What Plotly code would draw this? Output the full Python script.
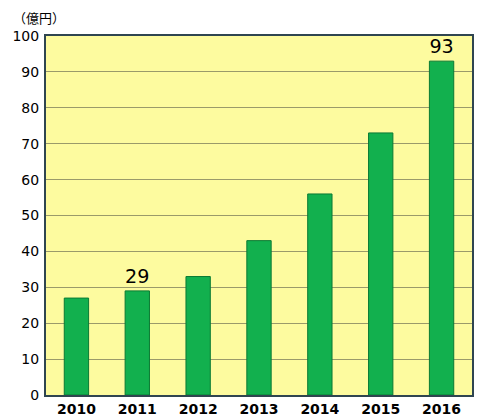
import plotly.graph_objects as go

years = ["2010", "2011", "2012", "2013", "2014", "2015", "2016"]
sales = [27, 29, 33, 43, 56, 73, 93]
labeled_years = ["2011", "2016"]
y_ticks = [0, 10, 20, 30, 40, 50, 60, 70, 80, 90, 100]

bar_text = [str(v) if y in labeled_years else "" for y, v in zip(years, sales)]

fig = go.Figure()

fig.add_trace(go.Bar(
    x=years,
    y=sales,
    marker=dict(color="#12b04e", line=dict(color="#0a7a34", width=1)),
    text=bar_text,
    textposition="outside",
    textfont=dict(family="DejaVu Sans", size=20, color="#000000"),
    cliponaxis=False,
    width=0.4,
))

# page body has an 8px margin, so the figure is drawn 8px smaller
fig.update_layout(
    width=482,
    height=408,
    margin=dict(l=38, r=18, t=28, b=21),
    paper_bgcolor="#ffffff",
    plot_bgcolor="#fdfb9f",
    showlegend=False,
    font=dict(family="DejaVu Sans", size=14, color="#000000"),
    xaxis=dict(
        tickfont=dict(family="DejaVu Sans", size=14, color="#000000", weight="bold"),
        showline=True, linecolor="#2f4550", linewidth=2,
        ticks="", mirror=True, automargin=False,
    ),
    yaxis=dict(
        range=[0, 100],
        tickvals=y_ticks,
        showgrid=True, gridcolor="#9a9a6a", gridwidth=1,
        showline=True, linecolor="#2f4550", linewidth=2,
        ticks="", mirror=True, zeroline=False,
        ticklabelstandoff=2, automargin=False,
    ),
    annotations=[dict(
        text="（億円）", xref="paper", yref="paper",
        x=-0.08, y=1.0, yshift=8, xanchor="left", yanchor="bottom",
        showarrow=False, borderpad=0,
        font=dict(family="Noto Sans CJK JP", size=13, color="#000000"),
    )],
)

fig.write_html("out.html")
